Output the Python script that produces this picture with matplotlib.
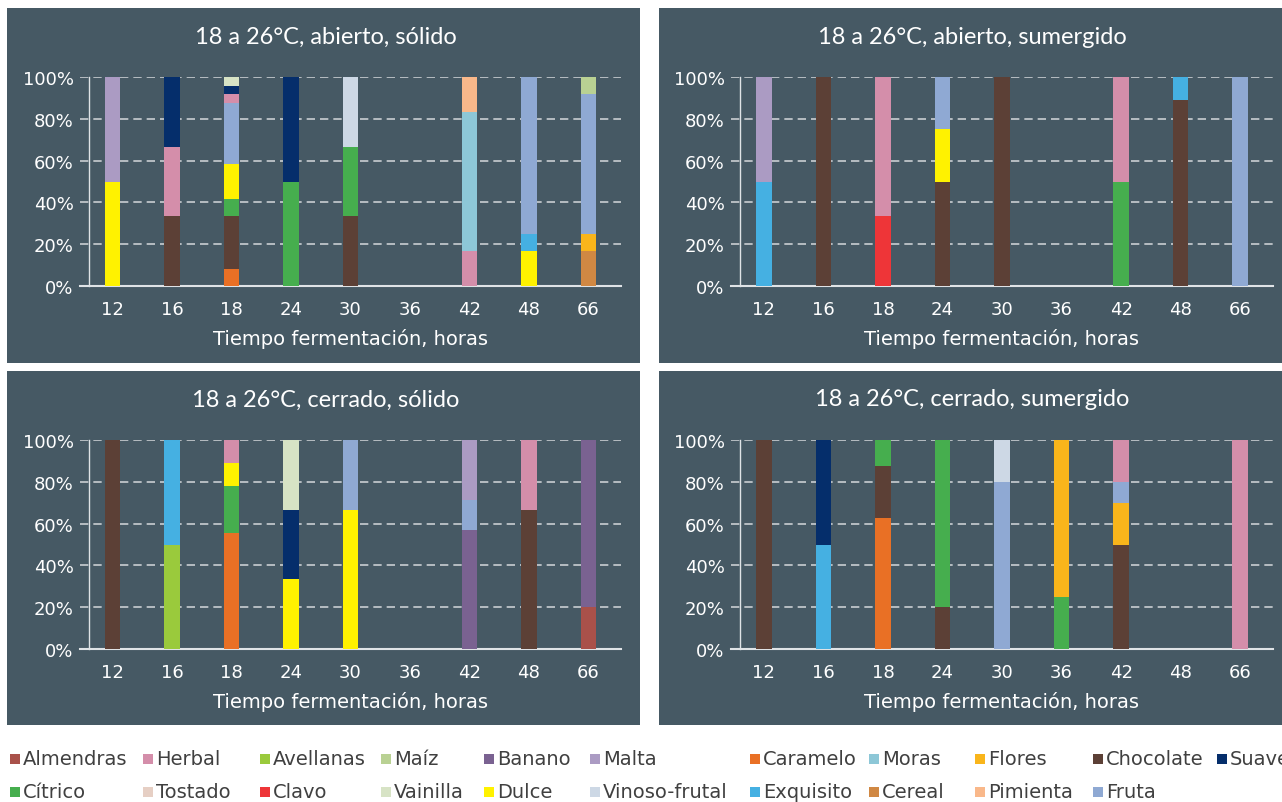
import matplotlib
matplotlib.use('Agg')
import matplotlib.pyplot as plt
from matplotlib.patches import Rectangle

W, H = 1282, 803

hours = ['12', '16', '18', '24', '30', '36', '42', '48', '66']

# descriptores en orden alfabetico (orden de apilado)
descriptores = ['Almendras', 'Avellanas', 'Banano', 'Caramelo', 'Cereal', 'Chocolate',
                'Cítrico', 'Clavo', 'Dulce', 'Exquisito', 'Flores', 'Fruta', 'Herbal',
                'Maíz', 'Malta', 'Moras', 'Pimienta', 'Suave', 'Tostado', 'Vainilla',
                'Vinoso-frutal']

colores = {
    'Almendras': '#a9514a', 'Avellanas': '#9aca3c', 'Banano': '#7a6291',
    'Caramelo': '#e97025', 'Cereal': '#d08843', 'Chocolate': '#5c4036',
    'Cítrico': '#46ae4e', 'Clavo': '#ee3538', 'Dulce': '#fff200',
    'Exquisito': '#45b0e2', 'Flores': '#f9b51b', 'Fruta': '#8fa9d3',
    'Herbal': '#d48eaa', 'Maíz': '#b9d193', 'Malta': '#ab9bc3',
    'Moras': '#8dc7d7', 'Pimienta': '#f9b88a', 'Suave': '#052e6b',
    'Tostado': '#e6cfc4', 'Vainilla': '#d7e3c5', 'Vinoso-frutal': '#cdd8e5',
}

# porcentajes por hora: 12, 16, 18, 24, 30, 36, 42, 48, 66
abierto_solido = {
    'Caramelo':      [0, 0, 8.3, 0, 0, 0, 0, 0, 0],
    'Cereal':        [0, 0, 0, 0, 0, 0, 0, 0, 16.7],
    'Chocolate':     [0, 33.3, 25, 0, 33.3, 0, 0, 0, 0],
    'Cítrico':       [0, 0, 8.3, 50, 33.3, 0, 0, 0, 0],
    'Dulce':         [50, 0, 16.7, 0, 0, 0, 0, 16.7, 0],
    'Exquisito':     [0, 0, 0, 0, 0, 0, 0, 8.3, 0],
    'Flores':        [0, 0, 0, 0, 0, 0, 0, 0, 8.3],
    'Fruta':         [0, 0, 29.2, 0, 0, 0, 0, 75, 66.7],
    'Herbal':        [0, 33.3, 4.2, 0, 0, 0, 16.7, 0, 0],
    'Maíz':          [0, 0, 0, 0, 0, 0, 0, 0, 8.3],
    'Malta':         [50, 0, 0, 0, 0, 0, 0, 0, 0],
    'Moras':         [0, 0, 0, 0, 0, 0, 66.7, 0, 0],
    'Pimienta':      [0, 0, 0, 0, 0, 0, 16.7, 0, 0],
    'Suave':         [0, 33.3, 4.2, 50, 0, 0, 0, 0, 0],
    'Vainilla':      [0, 0, 4.2, 0, 0, 0, 0, 0, 0],
    'Vinoso-frutal': [0, 0, 0, 0, 33.3, 0, 0, 0, 0],
}

abierto_sumergido = {
    'Chocolate': [0, 100, 0, 50, 100, 0, 0, 88.9, 0],
    'Cítrico':   [0, 0, 0, 0, 0, 0, 50, 0, 0],
    'Clavo':     [0, 0, 33.3, 0, 0, 0, 0, 0, 0],
    'Dulce':     [0, 0, 0, 25, 0, 0, 0, 0, 0],
    'Exquisito': [50, 0, 0, 0, 0, 0, 0, 11.1, 0],
    'Fruta':     [0, 0, 0, 25, 0, 0, 0, 0, 100],
    'Herbal':    [0, 0, 66.7, 0, 0, 0, 50, 0, 0],
    'Malta':     [50, 0, 0, 0, 0, 0, 0, 0, 0],
}

cerrado_solido = {
    'Almendras': [0, 0, 0, 0, 0, 0, 0, 0, 20],
    'Avellanas': [0, 50, 0, 0, 0, 0, 0, 0, 0],
    'Banano':    [0, 0, 0, 0, 0, 0, 57.1, 0, 80],
    'Caramelo':  [0, 0, 55.6, 0, 0, 0, 0, 0, 0],
    'Chocolate': [100, 0, 0, 0, 0, 0, 0, 66.7, 0],
    'Cítrico':   [0, 0, 22.2, 0, 0, 0, 0, 0, 0],
    'Dulce':     [0, 0, 11.1, 33.3, 66.7, 0, 0, 0, 0],
    'Exquisito': [0, 50, 0, 0, 0, 0, 0, 0, 0],
    'Fruta':     [0, 0, 0, 0, 33.3, 0, 14.3, 0, 0],
    'Herbal':    [0, 0, 11.1, 0, 0, 0, 0, 33.3, 0],
    'Malta':     [0, 0, 0, 0, 0, 0, 28.6, 0, 0],
    'Suave':     [0, 0, 0, 33.3, 0, 0, 0, 0, 0],
    'Vainilla':  [0, 0, 0, 33.3, 0, 0, 0, 0, 0],
}

cerrado_sumergido = {
    'Caramelo':      [0, 0, 62.5, 0, 0, 0, 0, 0, 0],
    'Chocolate':     [100, 0, 25, 20, 0, 0, 50, 0, 0],
    'Cítrico':       [0, 0, 12.5, 80, 0, 25, 0, 0, 0],
    'Exquisito':     [0, 50, 0, 0, 0, 0, 0, 0, 0],
    'Flores':        [0, 0, 0, 0, 0, 75, 20, 0, 0],
    'Fruta':         [0, 0, 0, 0, 80, 0, 10, 0, 0],
    'Herbal':        [0, 0, 0, 0, 0, 0, 20, 0, 100],
    'Suave':         [0, 50, 0, 0, 0, 0, 0, 0, 0],
    'Vinoso-frutal': [0, 0, 0, 0, 20, 0, 0, 0, 0],
}

titulos = ['18 a 26°C, abierto, sólido', '18 a 26°C, abierto, sumergido',
           '18 a 26°C, cerrado, sólido', '18 a 26°C, cerrado, sumergido']
paneles = [abierto_solido, abierto_sumergido, cerrado_solido, cerrado_sumergido]

# orden de la leyenda (como en el original, por filas)
leyenda_fila1 = ['Almendras', 'Herbal', 'Avellanas', 'Maíz', 'Banano', 'Malta',
                 'Caramelo', 'Moras', 'Flores', 'Chocolate', 'Suave']
leyenda_fila2 = ['Cítrico', 'Tostado', 'Clavo', 'Vainilla', 'Dulce', 'Vinoso-frutal',
                 'Exquisito', 'Cereal', 'Pimienta', 'Fruta']

BG = '#465964'
GRID = '#c9ced2'
FONT = 'DejaVu Sans'


def fx(px):
    return px / W


def fy(py):
    return 1 - py / H


fig = plt.figure(figsize=(W / 100, H / 100), dpi=100)
fig.patch.set_facecolor('white')

# (x0, y0, x1, y1) de cada panel y de su area de grafico, en pixeles
cajas = [(7, 9, 640, 364), (659, 9, 1282, 364), (7, 372, 640, 726), (659, 372, 1282, 726)]
areas = [(80, 78, 621, 287), (731, 78, 1273, 287), (80, 441, 621, 650), (731, 441, 1273, 650)]

for caja, area, datos, titulo in zip(cajas, areas, paneles, titulos):
    x0, y0, x1, y1 = caja
    fig.add_artist(Rectangle((fx(x0), fy(y1)), fx(x1 - x0), (y1 - y0) / H,
                             transform=fig.transFigure, facecolor=BG,
                             edgecolor='none', zorder=-1))
    ax0, ay0, ax1, ay1 = area
    ax = fig.add_axes([fx(ax0), fy(ay1), fx(ax1 - ax0), (ay1 - ay0) / H])
    ax.set_facecolor('none')

    xs = range(len(hours))
    base = [0] * len(hours)
    for d in descriptores:
        if d not in datos:
            continue
        vals = datos[d]
        ax.bar(xs, vals, width=0.26, bottom=base, color=colores[d],
               edgecolor='none', zorder=3)
        base = [b + v for b, v in zip(base, vals)]

    ax.set_xlim(-0.55, len(hours) - 0.45)
    ax.set_ylim(0, 100)
    ax.set_xticks(list(xs))
    ax.set_xticklabels(hours)
    ax.set_yticks([0, 20, 40, 60, 80, 100])
    ax.set_yticklabels(['0%', '20%', '40%', '60%', '80%', '100%'])
    for yv in [20, 40, 60, 80, 100]:
        ax.axhline(yv, color=GRID, lw=1.2, ls=(0, (5, 3)), zorder=1)
    ax.tick_params(length=0, colors='white', labelsize=13)
    ax.tick_params(axis='x', pad=10)
    ax.tick_params(axis='y', pad=11)
    for lab in ax.get_xticklabels() + ax.get_yticklabels():
        lab.set_fontfamily(FONT)
    for s in ['top', 'right']:
        ax.spines[s].set_visible(False)
    ax.spines['bottom'].set_color('#dfe3e6')
    ax.spines['bottom'].set_linewidth(1.5)
    ax.spines['left'].set_color('#dfe3e6')
    ax.spines['left'].set_linewidth(1.0)
    ax.spines['left'].set_position(('data', -0.4))
    ax.set_xlabel('Tiempo fermentación, horas', color='white', fontsize=14,
                  family=FONT, labelpad=7)

    fig.text(fx((x0 + x1) / 2 + 2), fy(y0 + 28), titulo, color='white',
             fontsize=17, family='Lato', ha='center', va='center')

# leyenda
col_x = [10, 143, 260, 381, 484, 590, 750, 869, 975, 1093, 1217]
for fila, yrow in [(leyenda_fila1, 760), (leyenda_fila2, 793)]:
    for nombre, xm in zip(fila, col_x):
        fig.add_artist(Rectangle((fx(xm), fy(yrow + 5)), fx(10), 10 / H,
                                 transform=fig.transFigure,
                                 facecolor=colores[nombre], edgecolor='none'))
        fig.text(fx(xm + 13), fy(yrow), nombre, color='#404040', fontsize=14,
                 family=FONT, ha='left', va='center')

fig.savefig('out.png', dpi=100, facecolor='white')
